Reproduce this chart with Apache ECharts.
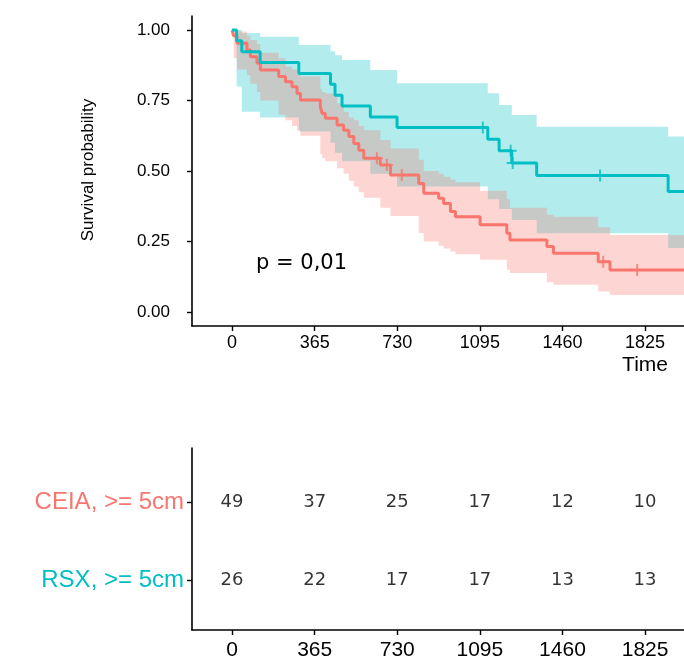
<!DOCTYPE html>
<html>
<head>
<meta charset="utf-8">
<script src="https://cdn.jsdelivr.net/npm/echarts@6/dist/echarts.min.js"></script>
<style>
  html, body { margin: 0; padding: 0; background: #fff; }
  #main { width: 684px; height: 662px; }
</style>
</head>
<body>
<div id="main"></div>
<script>
// survival curves (time in days)
const ceiaTime = [0, 7, 22, 66, 81, 110, 125, 206, 236, 265, 287, 302, 390, 398, 412, 464, 493, 516, 538, 560, 582, 655, 700, 825, 847, 913, 935, 965, 987, 1096, 1214, 1228, 1391, 1420, 1618, 1670];
const ceiaSurv = [1, 0.98, 0.953, 0.929, 0.905, 0.882, 0.858, 0.835, 0.817, 0.799, 0.775, 0.752, 0.728, 0.704, 0.687, 0.663, 0.645, 0.622, 0.598, 0.574, 0.545, 0.521, 0.486, 0.456, 0.421, 0.403, 0.385, 0.356, 0.338, 0.309, 0.279, 0.255, 0.232, 0.208, 0.178, 0.149];
const ceiaUpper = [1, 1, 0.995, 0.98, 0.965, 0.95, 0.92, 0.9, 0.87, 0.86, 0.845, 0.835, 0.79, 0.78, 0.775, 0.74, 0.71, 0.69, 0.68, 0.66, 0.645, 0.61, 0.58, 0.54, 0.5, 0.49, 0.48, 0.47, 0.46, 0.43, 0.40, 0.37, 0.345, 0.338, 0.30, 0.273];
const ceiaLower = [1, 0.9, 0.86, 0.84, 0.81, 0.78, 0.75, 0.70, 0.68, 0.66, 0.645, 0.625, 0.56, 0.545, 0.535, 0.51, 0.49, 0.465, 0.445, 0.425, 0.405, 0.37, 0.34, 0.28, 0.25, 0.235, 0.225, 0.214, 0.205, 0.185, 0.15, 0.138, 0.105, 0.096, 0.072, 0.06];
const ceiaCensTime = [640, 684, 750, 1640, 1790];
const ceiaCensSurv = [0.545, 0.521, 0.486, 0.178, 0.149];

const rsxTime = [0, 20, 43, 124, 295, 435, 455, 486, 611, 729, 1130, 1180, 1236, 1346, 1927];
const rsxSurv = [1, 0.962, 0.923, 0.885, 0.846, 0.808, 0.769, 0.731, 0.692, 0.654, 0.613, 0.572, 0.528, 0.484, 0.427];
const rsxUpper = [1, 1, 0.99, 0.976, 0.947, 0.925, 0.911, 0.894, 0.858, 0.811, 0.776, 0.734, 0.699, 0.657, 0.622];
const rsxLower = [1, 0.8, 0.71, 0.69, 0.64, 0.60, 0.565, 0.535, 0.49, 0.445, 0.40, 0.365, 0.326, 0.279, 0.227];
const rsxCensTime = [1108, 1231, 1240, 1626];
const rsxCensSurv = [0.654, 0.572, 0.528, 0.484];

// number at risk table
const riskTimes = [0, 365, 730, 1095, 1460, 1825];
const riskCEIA = [49, 37, 25, 17, 12, 10];
const riskRSX = [26, 22, 17, 17, 13, 13];
const groupNames = ['RSX, >= 5cm', 'CEIA, >= 5cm'];

const yTicks = [0, 0.25, 0.5, 0.75, 1];

const red = '#F8766D';
const teal = '#00BFC4';
const xMin = -177, xMax = 1997;
const plus = 'path://M5,0H7V5H12V7H7V12H5V7H0V5H5Z';

let chart = echarts.init(document.getElementById('main'));

const stepData = (times, surv) => {
  let arr = times.map((t, i) => [t, surv[i]]);
  arr.push([xMax, surv[surv.length - 1]]);
  return arr;
}

// confidence band as one stepped polygon
const bandSeries = (times, upper, lower, color) => {
  return {
    type: 'custom',
    xAxisIndex: 0,
    yAxisIndex: 0,
    clip: true,
    silent: true,
    data: [[times[0], upper[0]]],
    renderItem: function (params, api) {
      let pts = [];
      for (let i = 0; i < times.length; i++) {
        let t1 = i + 1 < times.length ? times[i + 1] : xMax;
        pts.push(api.coord([times[i], upper[i]]));
        pts.push(api.coord([t1, upper[i]]));
      }
      for (let i = times.length - 1; i >= 0; i--) {
        let t1 = i + 1 < times.length ? times[i + 1] : xMax;
        pts.push(api.coord([t1, lower[i]]));
        pts.push(api.coord([times[i], lower[i]]));
      }
      return { type: 'polygon', shape: { points: pts }, style: { fill: color } };
    }
  }
}

const lineSeries = (times, surv, color) => {
  return {
    type: 'line',
    xAxisIndex: 0,
    yAxisIndex: 0,
    step: 'end',
    symbol: 'none',
    silent: true,
    data: stepData(times, surv),
    lineStyle: { color: color, width: 3 }
  }
}

const censorSeries = (times, surv, color) => {
  return {
    type: 'scatter',
    xAxisIndex: 0,
    yAxisIndex: 0,
    symbol: plus,
    symbolSize: 12,
    silent: true,
    data: times.map((t, i) => [t, surv[i]]),
    itemStyle: { color: color }
  }
}

const riskSeries = (counts, row) => {
  return {
    type: 'scatter',
    xAxisIndex: 1,
    yAxisIndex: 1,
    symbolSize: 1,
    silent: true,
    itemStyle: { color: 'rgba(0,0,0,0)' },
    data: riskTimes.map((t, i) => [t, row, counts[i]]),
    label: {
      show: true,
      position: 'inside',
      formatter: (p) => String(p.value[2]),
      color: '#000',
      textBorderWidth: 0,
      fontSize: 18,
      fontFamily: 'DejaVu Sans'
    }
  }
}

const axisLine = { onZero: false, lineStyle: { color: '#000', width: 1.6 } };
const tick = (vals) => ({ customValues: vals, length: 5, lineStyle: { color: '#000', width: 1.4 } });
const font = 'Liberation Sans';

let option = {
  animation: false,
  backgroundColor: '#fff',
  grid: [
    { left: 192, right: 0, top: 16, height: 310 },
    { left: 192, right: 0, top: 448, height: 182 }
  ],
  xAxis: [
    {
      type: 'value', gridIndex: 0, min: xMin, max: xMax,
      axisLine: axisLine,
      axisTick: tick(riskTimes),
      axisLabel: { customValues: riskTimes, color: '#000', fontSize: 18, fontFamily: font, margin: 8, formatter: (v) => String(v) },
      splitLine: { show: false }
    },
    {
      type: 'value', gridIndex: 1, min: xMin, max: xMax,
      axisLine: axisLine,
      axisTick: tick(riskTimes),
      axisLabel: { customValues: riskTimes, color: '#000', fontSize: 21, fontFamily: font, margin: 10, formatter: (v) => String(v) },
      splitLine: { show: false }
    }
  ],
  yAxis: [
    {
      type: 'value', gridIndex: 0, min: -0.05, max: 1.05,
      axisLine: axisLine,
      axisTick: tick(yTicks),
      axisLabel: {
        customValues: yTicks, color: '#000', fontSize: 17, fontFamily: font, margin: 22,
        formatter: (v) => Number(v).toFixed(2)
      },
      splitLine: { show: false }
    },
    {
      type: 'value', gridIndex: 1, min: 0.359, max: 2.692,
      axisLine: axisLine,
      axisTick: tick([1, 2]),
      axisLabel: {
        customValues: [1, 2], margin: 8,
        formatter: (v) => {
          let idx = Math.round(v) - 1;
          return '{g' + idx + '|' + groupNames[idx] + '}';
        },
        rich: {
          g0: { color: teal, fontSize: 24, fontFamily: font },
          g1: { color: red, fontSize: 24, fontFamily: font }
        }
      },
      splitLine: { show: false }
    }
  ],
  graphic: [
    {
      type: 'text', x: 88, y: 170, rotation: Math.PI / 2, silent: true,
      style: { text: 'Survival probability', fontSize: 17, fontFamily: font, fill: '#000', align: 'center', verticalAlign: 'middle', textAlign: 'center', textVerticalAlign: 'middle' }
    },
    {
      type: 'text', x: 256, y: 264, silent: true,
      style: { text: 'p = 0,01', fontSize: 21, fontFamily: 'DejaVu Sans', fill: '#000', align: 'left', verticalAlign: 'middle', textAlign: 'left', textVerticalAlign: 'middle' }
    },
    {
      type: 'text', x: 668, y: 365, silent: true,
      style: { text: 'Time', fontSize: 21, fontFamily: font, fill: '#000', align: 'right', verticalAlign: 'middle', textAlign: 'right', textVerticalAlign: 'middle' }
    }
  ],
  series: [
    bandSeries(rsxTime, rsxUpper, rsxLower, 'rgba(0,191,196,0.3)'),
    bandSeries(ceiaTime, ceiaUpper, ceiaLower, 'rgba(248,118,109,0.3)'),
    lineSeries(ceiaTime, ceiaSurv, red),
    lineSeries(rsxTime, rsxSurv, teal),
    censorSeries(ceiaCensTime, ceiaCensSurv, red),
    censorSeries(rsxCensTime, rsxCensSurv, teal),
    riskSeries(riskCEIA, 2),
    riskSeries(riskRSX, 1)
  ]
}

chart.setOption(option);
</script>
</body>
</html>
